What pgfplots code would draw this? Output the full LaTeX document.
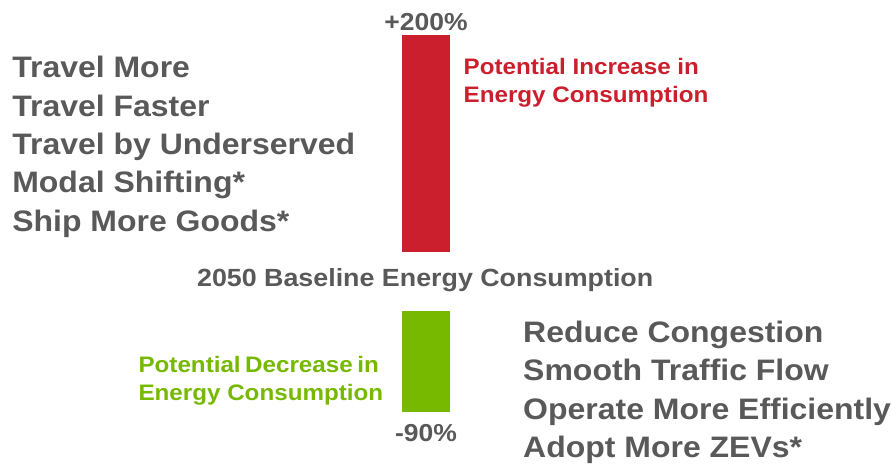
\documentclass[border=0pt]{standalone}
\usepackage{pgfplots}
\pgfplotsset{compat=1.18}
\usepackage{fontspec}
\setmainfont{Liberation Sans}[FakeStretch=1.08]

\definecolor{incred}{HTML}{CC1F2D}
\definecolor{decgreen}{HTML}{76B900}
\definecolor{txtgray}{HTML}{595959}

\begin{document}
\begin{tikzpicture}[every node/.style={inner sep=0pt, font=\bfseries}]

	% frame in (slightly shrunk) pixel units, text placed here
	\begin{axis}[scale only axis, width=891bp, height=462bp, at={(0bp,0bp)},
			xmin=0, xmax=898, ymin=-3.6, ymax=462, y dir=reverse, hide axis, clip=false]
		\addplot[draw=none] coordinates {(0,0)};
		\foreach \t/\y in {Travel More/77, Travel Faster/115, Travel by Underserved/153,
				Modal Shifting*/191, Ship More Goods*/229}{
			\edef\tmp{\noexpand\node[anchor=base west, txtgray, font=\noexpand\fontsize{29.2}{35}\noexpand\bfseries\noexpand\selectfont] at (axis cs:12,\y) {\t};}
			\tmp
		}
		\foreach \t/\y in {Reduce Congestion/339, Smooth Traffic Flow/377,
				Operate More Efficiently/415, Adopt More ZEVs*/453}{
			\edef\tmp{\noexpand\node[anchor=base west, txtgray, font=\noexpand\fontsize{29.2}{35}\noexpand\bfseries\noexpand\selectfont] at (axis cs:518,\y) {\t};}
			\tmp
		}
		\node[anchor=base west, incred, font=\fontsize{22.1}{26}\bfseries\selectfont] at (axis cs:459,74) {Potential Increase in};
		\node[anchor=base west, incred, font=\fontsize{22.1}{26}\bfseries\selectfont] at (axis cs:459,102) {Energy Consumption};
		\node[anchor=base west, decgreen, font=\fontsize{22.1}{26}\bfseries\selectfont] at (axis cs:137,369) {\makebox[231bp][s]{Potential Decrease in}};
		\node[anchor=base west, decgreen, font=\fontsize{22.1}{26}\bfseries\selectfont] at (axis cs:137,397) {Energy Consumption};
		\node[anchor=base west, txtgray, font=\fontsize{24.5}{28}\bfseries\selectfont] at (axis cs:195,284) {2050 Baseline Energy Consumption};
		\node[anchor=base, txtgray, font=\fontsize{24.2}{28}\bfseries\selectfont] at (axis cs:422,30) {+200\%};
		\node[anchor=base, txtgray, font=\fontsize{24.2}{28}\bfseries\selectfont] at (axis cs:422,437) {-90\%};
	\end{axis}

	% potential increase bar
	\begin{axis}[scale only axis, width=891bp, height=213.3bp, at={(0bp,211bp)},
			xmin=0, xmax=898, ymin=0, ymax=200, hide axis, ybar, bar width=47.6bp]
		\addplot[fill=incred, draw=none] coordinates {(422,200)};
	\end{axis}

	% potential decrease bar
	\begin{axis}[scale only axis, width=891bp, height=99.2bp, at={(0bp,53.2bp)},
			xmin=0, xmax=898, ymin=-90, ymax=0, hide axis, ybar, bar width=47.6bp]
		\addplot[fill=decgreen, draw=none] coordinates {(422,-90)};
	\end{axis}

\end{tikzpicture}
\end{document}
